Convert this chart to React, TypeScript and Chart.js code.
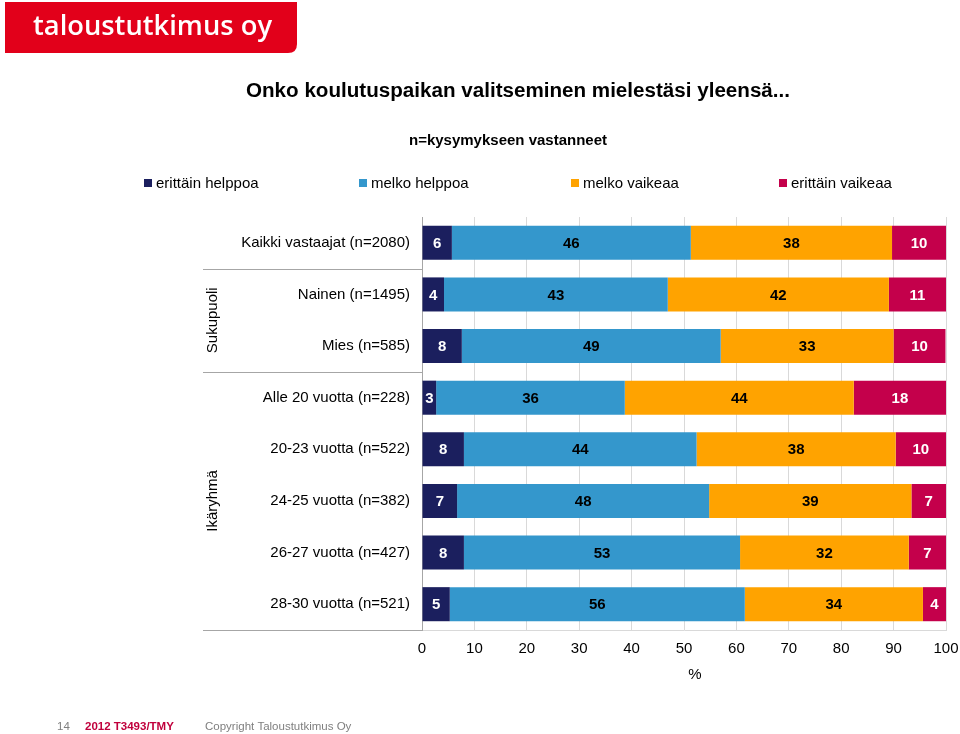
import React, { useEffect, useRef } from "react";
import { Chart, registerables } from "chart.js";

Chart.register(...registerables);

const categories = [
  "Kaikki vastaajat (n=2080)",
  "Nainen (n=1495)",
  "Mies (n=585)",
  "Alle 20 vuotta (n=228)",
  "20-23 vuotta (n=522)",
  "24-25 vuotta (n=382)",
  "26-27 vuotta (n=427)",
  "28-30 vuotta (n=521)",
];
const seriesNames = ["erittäin helppoa", "melko helppoa", "melko vaikeaa", "erittäin vaikeaa"];
const erittainHelppoa = [5.7, 4.2, 7.6, 2.7, 8.0, 6.7, 8.0, 5.3];
const melkoHelppoa = [45.6, 42.7, 49.4, 36.0, 44.4, 48.1, 52.7, 56.3];
const melkoVaikeaa = [38.4, 42.2, 33.0, 43.7, 38.0, 38.6, 32.2, 34.0];
const erittainVaikeaa = [10.3, 10.9, 9.9, 17.6, 9.6, 6.6, 7.1, 4.4];
const xTicks = [0, 10, 20, 30, 40, 50, 60, 70, 80, 90, 100];
const groupLabels = [
  { text: "Sukupuoli", from: 1, to: 2 },
  { text: "Ikäryhmä", from: 3, to: 7 },
];
const separatorsAfter = [0, 2, 7];

const titleText = "Onko koulutuspaikan valitseminen mielestäsi yleensä...";
const subtitleText = "n=kysymykseen vastanneet";
const logoText = "taloustutkimus oy";

const COLORS = ["#1b1f5e", "#3497cc", "#ffa300", "#c4004b"];
const LABEL_COLORS = ["#ffffff", "#000000", "#000000", "#ffffff"];
const FONT = "'Liberation Sans', Arial, sans-serif";

function fitText(ctx: CanvasRenderingContext2D, text: string, x: number, y: number, width: number, align: "left" | "center") {
  const w = ctx.measureText(text).width;
  const sx = width / w;
  ctx.save();
  const startX = align === "center" ? x - width / 2 : x;
  ctx.translate(startX, y);
  ctx.scale(sx, 1);
  ctx.textAlign = "left";
  ctx.fillText(text, 0, 0);
  ctx.restore();
}

const overlayPlugin = {
  id: "overlay",
  beforeDraw(chart: any) {
    const ctx = chart.ctx as CanvasRenderingContext2D;
    ctx.save();
    ctx.fillStyle = "#ffffff";
    ctx.fillRect(0, 0, chart.width, chart.height);
    ctx.restore();
  },
  afterDraw(chart: any) {
    const ctx = chart.ctx as CanvasRenderingContext2D;
    const area = chart.chartArea;
    const yScale = chart.scales.y;
    const xScale = chart.scales.x;
    ctx.save();

    // logo
    ctx.fillStyle = "#e2001a";
    const lx0 = 5, ly0 = 2, lx1 = 297, ly1 = 53, r = 9;
    ctx.beginPath();
    ctx.moveTo(lx0, ly0);
    ctx.lineTo(lx1, ly0);
    ctx.lineTo(lx1, ly1 - r);
    ctx.quadraticCurveTo(lx1, ly1, lx1 - r, ly1);
    ctx.lineTo(lx0, ly1);
    ctx.closePath();
    ctx.fill();
    ctx.fillStyle = "#ffffff";
    ctx.font = `600 27px 'Open Sans', ${FONT}`;
    ctx.textBaseline = "alphabetic";
    fitText(ctx, logoText, 33, 35, 239, "left");

    // title
    ctx.fillStyle = "#000000";
    ctx.font = `bold 20px ${FONT}`;
    ctx.textBaseline = "middle";
    fitText(ctx, titleText, 518, 91, 544, "center");
    ctx.font = `bold 15px ${FONT}`;
    fitText(ctx, subtitleText, 508, 141, 198, "center");

    // legend
    const legendX = [144, 359, 571, 779];
    ctx.font = `15px ${FONT}`;
    ctx.textAlign = "left";
    ctx.textBaseline = "middle";
    seriesNames.forEach((name, i) => {
      ctx.fillStyle = COLORS[i];
      ctx.fillRect(legendX[i], 179, 8, 8);
      ctx.fillStyle = "#000000";
      ctx.fillText(name, legendX[i] + 12, 184);
    });

    // bar value labels
    ctx.font = `bold 15px ${FONT}`;
    ctx.textAlign = "center";
    ctx.textBaseline = "middle";
    chart.data.datasets.forEach((ds: any, di: number) => {
      const meta = chart.getDatasetMeta(di);
      meta.data.forEach((el: any, i: number) => {
        const v = ds.data[i];
        const cx = (el.x + el.base) / 2;
        ctx.fillStyle = LABEL_COLORS[di];
        ctx.fillText(String(Math.round(v)), cx, el.y + 1);
      });
    });

    // separators
    ctx.strokeStyle = "#a6a6a6";
    ctx.lineWidth = 1;
    separatorsAfter.forEach((idx) => {
      const y = Math.round((yScale.getPixelForValue(idx) + yScale.getPixelForValue(idx + 1)) / 2) + 0.5;
      const yy = idx === categories.length - 1 ? Math.round(area.bottom) + 0.5 : y;
      ctx.beginPath();
      ctx.moveTo(203, yy);
      ctx.lineTo(area.left, yy);
      ctx.stroke();
    });

    // group labels
    ctx.fillStyle = "#000000";
    ctx.font = `15px ${FONT}`;
    groupLabels.forEach((g) => {
      const cy = (yScale.getPixelForValue(g.from) + yScale.getPixelForValue(g.to)) / 2;
      ctx.save();
      ctx.translate(213, cy);
      ctx.rotate(-Math.PI / 2);
      ctx.textAlign = "center";
      ctx.textBaseline = "middle";
      ctx.fillText(g.text, 0, 0);
      ctx.restore();
    });

    // x axis title
    ctx.textAlign = "center";
    ctx.textBaseline = "middle";
    ctx.fillText("%", (xScale.left + xScale.right) / 2 + 11, 675);

    // footer
    ctx.font = `11.5px ${FONT}`;
    ctx.textAlign = "left";
    ctx.fillStyle = "#7f7f7f";
    ctx.fillText("14", 57, 727);
    ctx.fillStyle = "#c0003c";
    ctx.font = `bold 11.5px ${FONT}`;
    ctx.fillText("2012 T3493/TMY", 85, 727);
    ctx.fillStyle = "#7f7f7f";
    ctx.font = `11.5px ${FONT}`;
    ctx.fillText("Copyright Taloustutkimus Oy", 205, 727);

    ctx.restore();
  },
};

export default function App() {
  const canvasRef = useRef<HTMLCanvasElement | null>(null);

  useEffect(() => {
    document.body.style.margin = "0";
    const canvas = canvasRef.current;
    if (!canvas) return;
    const seriesData = [erittainHelppoa, melkoHelppoa, melkoVaikeaa, erittainVaikeaa];
    const chart = new Chart(canvas, {
      type: "bar",
      data: {
        labels: categories,
        datasets: seriesNames.map((name, i) => ({
          label: name,
          data: seriesData[i],
          backgroundColor: COLORS[i],
          borderWidth: 0,
          barPercentage: 0.66,
          categoryPercentage: 1,
        })),
      },
      options: {
        indexAxis: "y",
        animation: false,
        responsive: false,
        devicePixelRatio: 1,
        layout: { padding: { top: 217, right: 14, left: 0, bottom: 0 } },
        plugins: {
          legend: { display: false },
          title: { display: false },
          tooltip: { enabled: false },
        },
        scales: {
          x: {
            stacked: true,
            min: 0,
            max: 100,
            afterFit: (scale: any) => {
              scale.height = 104;
              scale.paddingLeft = 0;
              scale.paddingRight = 0;
            },
            afterBuildTicks: (scale: any) => {
              scale.ticks = xTicks.map((v) => ({ value: v }));
            },
            ticks: {
              color: "#000000",
              font: { family: FONT, size: 15 },
              padding: 10,
              maxRotation: 0,
            },
            grid: { color: "#d9d9d9", drawTicks: false },
            border: { display: true, color: "#d9d9d9" },
          },
          y: {
            stacked: true,
            afterFit: (scale: any) => {
              scale.width = 422;
              scale.paddingTop = 0;
              scale.paddingBottom = 0;
            },
            ticks: {
              color: "#000000",
              font: { family: FONT, size: 15 },
              padding: 12,
            },
            grid: { display: false, drawTicks: false },
            border: { display: true, color: "#a6a6a6" },
          },
        },
      },
      plugins: [overlayPlugin],
    } as any);
    return () => chart.destroy();
  }, []);

  return (
    <div style={{ position: "fixed", left: 0, top: 0, width: 960, height: 734, background: "#fff" }}>
      <canvas ref={canvasRef} width={960} height={734} style={{ width: 960, height: 734, display: "block" }} />
    </div>
  );
}
